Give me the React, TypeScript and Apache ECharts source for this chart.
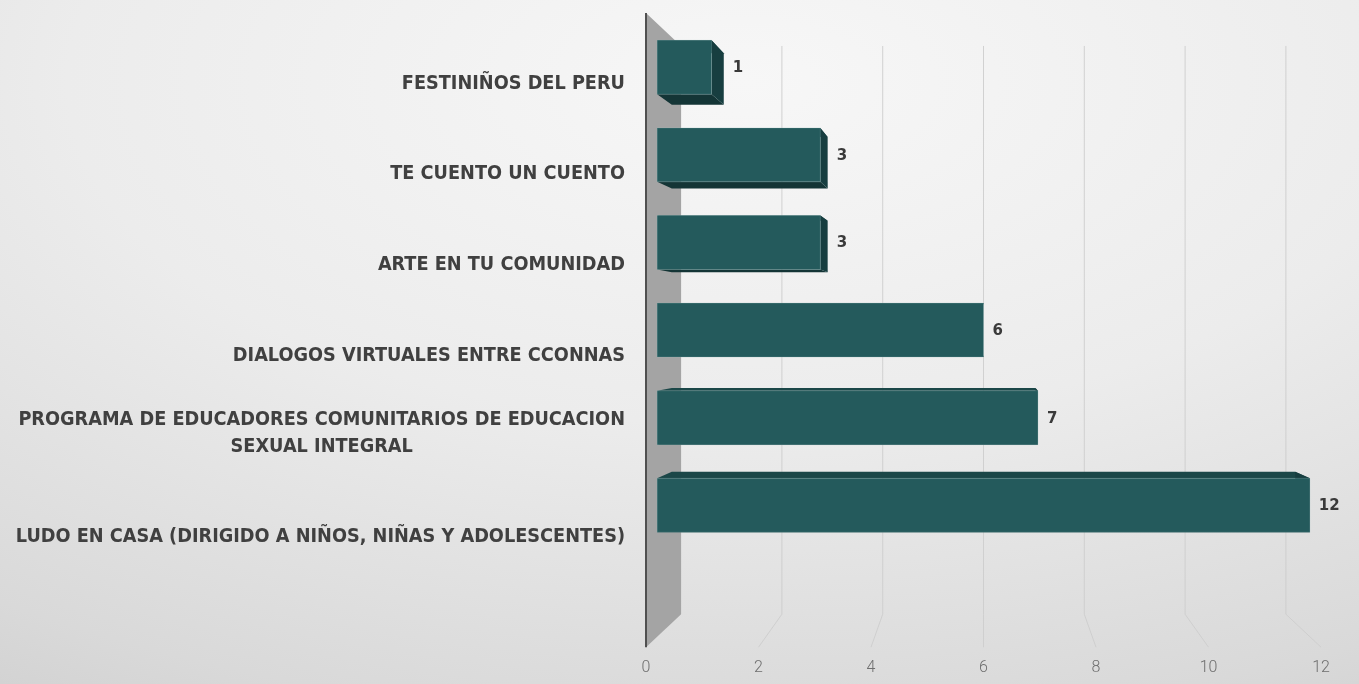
import React, { useEffect, useRef } from "react";
import * as echarts from "echarts";

const categories = [
  "FESTINIÑOS DEL PERU",
  "TE CUENTO UN CUENTO",
  "ARTE EN TU COMUNIDAD",
  "DIALOGOS VIRTUALES ENTRE CCONNAS",
  "PROGRAMA DE EDUCADORES COMUNITARIOS DE EDUCACION\nSEXUAL INTEGRAL",
  "LUDO EN CASA (DIRIGIDO A NIÑOS, NIÑAS Y ADOLESCENTES)",
];
const values = [1, 3, 3, 6, 7, 12];
const xTicks = [0, 2, 4, 6, 8, 10, 12];

const LABEL_FAMILY = '"Liberation Sans Narrow", "DejaVu Sans Condensed", "Arial Narrow", sans-serif';
const LABEL_SIZE = 19.7;
const LABEL_FONT = `bold ${LABEL_SIZE}px ${LABEL_FAMILY}`;

function measure(text: string, font: string): number {
  const ctx = document.createElement("canvas").getContext("2d");
  if (!ctx) return text.length * 11;
  ctx.font = font;
  return ctx.measureText(text).width;
}

// perspective constants (relative depths of planes)
const K_BAR_FRONT = 0.967;
const K_BAR_BACK = 0.9235;
const K_WALL = 0.896;

function getVP(cs: any) {
  const band = cs.height / categories.length;
  return [cs.x + cs.width / 2, cs.y + band * 3.5];
}

export default function App() {
  const ref = useRef<HTMLDivElement>(null);
  useEffect(() => {
    if (!ref.current) return;
    const chart = echarts.init(ref.current, undefined, { renderer: "svg" });

    const labelStyle = {
      fontFamily: LABEL_FAMILY,
      fontWeight: "bold" as const,
      fontSize: LABEL_SIZE,
      color: "#404040",
      lineHeight: 27,
    };

    const multi = categories.find((c) => c.includes("\n"));
    const w = multi ? Math.max(...multi.split("\n").map((l) => measure(l, LABEL_FONT))) : 0;

    const option: any = {
      animation: false,
      backgroundColor: {
        type: "radial",
        x: 0.55,
        y: 0.12,
        r: 1.25,
        colorStops: [
          { offset: 0, color: "#f7f7f7" },
          { offset: 0.4, color: "#ececec" },
          { offset: 0.75, color: "#d9d9d9" },
          { offset: 1, color: "#c6c6c6" },
        ],
      },
      grid: {
        left: 646,
        right: 38,
        top: 13,
        bottom: 127.4,
        containLabel: false,
        outerBoundsMode: "none",
      },
      xAxis: {
        type: "value",
        min: 0,
        max: 12,
        interval: 2,
        axisLine: { show: false },
        axisTick: { show: false },
        splitLine: { show: false },
        axisLabel: {
          margin: 102,
          fontFamily: "Roboto, Lato, sans-serif",
          fontWeight: 300,
          fontSize: 16,
          color: "#6e6e6e",
        },
      },
      yAxis: {
        type: "category",
        data: categories,
        inverse: true,
        axisLine: { show: false },
        axisTick: { show: false },
        splitLine: { show: false },
        axisLabel: {
          interval: 0,
          margin: 21,
          ...labelStyle,
          formatter: (val: string) => {
            const lines = val.split("\n");
            if (lines.length === 1) return `{s|${val}}`;
            return lines.map((l) => `{c|${l}}`).join("\n");
          },
          rich: {
            s: { ...labelStyle, padding: [48, 0, 0, 0] },
            c: { ...labelStyle, width: w, align: "center", padding: [22, 0, 0, 0] },
          },
        },
      },
      series: [
        {
          type: "custom",
          name: "decor",
          z: 1,
          clip: false,
          silent: true,
          data: xTicks.map((t) => [t, 0]),
          encode: { x: 0, y: 1 },
          renderItem: (params: any, api: any) => {
            const cs = params.coordSys;
            const band = cs.height / categories.length;
            const vp = getVP(cs);
            const P = (x: number, y: number, k: number) => [vp[0] + (x - vp[0]) * k, vp[1] + (y - vp[1]) * k];
            const t = api.value(0);
            const X = api.coord([t, 0])[0];
            const top = cs.y;
            const floor = cs.y + band * (categories.length + 1);
            if (t === 0) {
              return {
                type: "group",
                children: [
                  {
                    type: "polygon",
                    shape: { points: [[X, top], P(X, top, K_WALL), P(X, floor, K_WALL), [X, floor]] },
                    style: { fill: "#a4a4a4" },
                  },
                  {
                    type: "line",
                    shape: { x1: X, y1: top, x2: X, y2: floor },
                    style: { stroke: "#505050", lineWidth: 2 },
                  },
                ],
              };
            }
            return {
              type: "polyline",
              shape: { points: [P(X, top, K_WALL), P(X, floor, K_WALL), [X, floor]] },
              style: { stroke: "rgba(205,205,205,0.9)", lineWidth: 1, fill: null },
            };
          },
        },
        {
          type: "custom",
          name: "bars",
          z: 2,
          clip: false,
          data: values.map((v, i) => [v, i]),
          encode: { x: 0, y: 1 },
          renderItem: (params: any, api: any) => {
            const cs = params.coordSys;
            const band = cs.height / categories.length;
            const vp = getVP(cs);
            const P = (x: number, y: number, k: number) => [vp[0] + (x - vp[0]) * k, vp[1] + (y - vp[1]) * k];
            const v = api.value(0);
            const idx = api.value(1);
            const p0 = api.coord([0, idx]);
            const p1 = api.coord([v, idx]);
            const half = band * 0.308;
            const fTL = P(p0[0], p0[1] - half, K_BAR_FRONT);
            const fTR = P(p1[0], p1[1] - half, K_BAR_FRONT);
            const fBR = P(p1[0], p1[1] + half, K_BAR_FRONT);
            const fBL = P(p0[0], p0[1] + half, K_BAR_FRONT);
            const bTL = P(p0[0], p0[1] - half, K_BAR_BACK);
            const bTR = P(p1[0], p1[1] - half, K_BAR_BACK);
            const bBR = P(p1[0], p1[1] + half, K_BAR_BACK);
            const bBL = P(p0[0], p0[1] + half, K_BAR_BACK);
            const rightX = Math.max(fTR[0], bTR[0]);
            return {
              type: "group",
              children: [
                { type: "polygon", shape: { points: [fTL, fTR, bTR, bTL] }, style: { fill: "#1b4748" } },
                { type: "polygon", shape: { points: [fBL, fBR, bBR, bBL] }, style: { fill: "#143536" } },
                { type: "polygon", shape: { points: [fTR, bTR, bBR, fBR] }, style: { fill: "#173e40" } },
                {
                  type: "polygon",
                  shape: { points: [fTL, fTR, fBR, fBL] },
                  style: { fill: "#245a5c", stroke: "rgba(150,190,190,0.25)", lineWidth: 1 },
                },
                {
                  type: "text",
                  x: rightX + 9,
                  y: (fTR[1] + fBR[1]) / 2,
                  style: {
                    text: String(v),
                    fill: "#3a3a3a",
                    font: "bold 15px 'DejaVu Sans', 'Liberation Sans', sans-serif",
                    align: "left",
                    verticalAlign: "middle",
                  },
                },
              ],
            };
          },
        },
      ],
    };

    chart.setOption(option);
    return () => chart.dispose();
  }, []);

  return (
    <div
      ref={ref}
      style={{ position: "fixed", left: 0, top: 0, width: 1359, height: 684 }}
    />
  );
}
